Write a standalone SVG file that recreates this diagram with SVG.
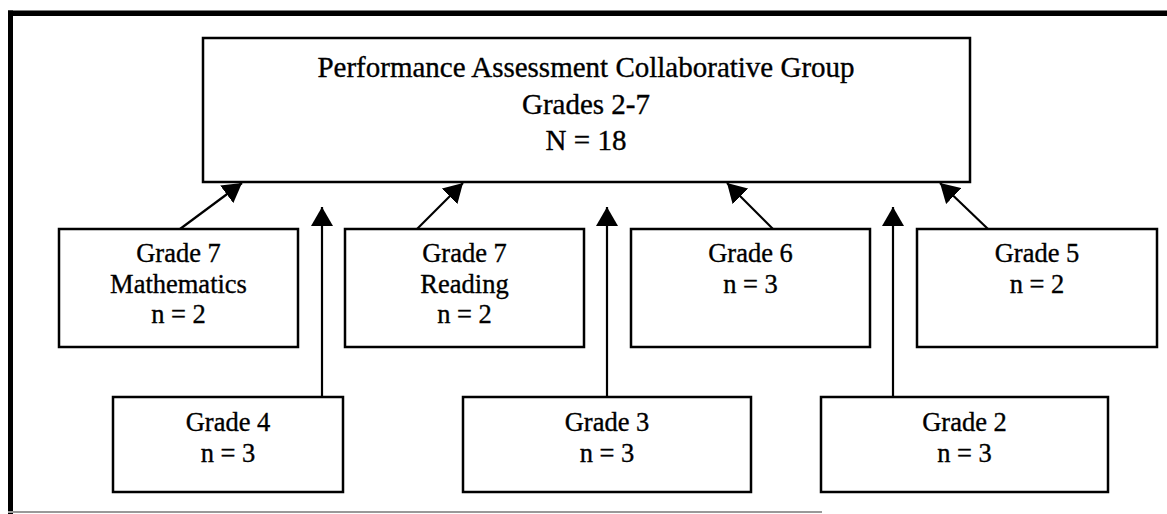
<svg xmlns="http://www.w3.org/2000/svg" width="1167" height="514" viewBox="0 0 1167 514">
<style>
.box{fill:#fff;stroke:#000;stroke-width:2.5}
.t{font-family:"Liberation Serif","Times New Roman",serif;font-size:26.5px;fill:#000;stroke:#000;stroke-width:0.35;text-anchor:middle}
.tt{font-family:"Liberation Serif","Times New Roman",serif;font-size:29px;fill:#000;stroke:#000;stroke-width:0.35;text-anchor:middle}
.c{stroke:#000;stroke-width:2.2;fill:none;marker-end:url(#ah)}
</style>
<defs>
<marker id="ah" markerUnits="userSpaceOnUse" markerWidth="22" markerHeight="22" refX="19" refY="11" orient="auto">
<path d="M0,0 L19,11 L0,22 z" fill="#000"/>
</marker>
</defs>
<rect width="1167" height="514" fill="#fff"/>
<g id="frame">
<rect x="8" y="10.5" width="1159" height="5.5" fill="#000"/>
<rect x="8" y="10.5" width="5" height="503.5" fill="#000"/>
<line x1="8" y1="512" x2="822" y2="512" stroke="#999" stroke-width="2"/>
</g>
<g id="connectors">
<line class="c" x1="180" y1="229" x2="242" y2="183"/>
<line class="c" x1="417" y1="229" x2="463" y2="183"/>
<line class="c" x1="773" y1="229" x2="727" y2="183"/>
<line class="c" x1="988" y1="229" x2="940" y2="183"/>
<line class="c" x1="322" y1="397" x2="322" y2="207"/>
<line class="c" x1="607" y1="397" x2="607" y2="207"/>
<line class="c" x1="893" y1="397" x2="893" y2="207"/>
</g>
<g id="top">
<rect class="box" x="203" y="38" width="767" height="144"/>
<text class="tt" x="586" y="77">Performance Assessment Collaborative Group</text>
<text class="tt" x="586" y="114">Grades 2-7</text>
<text class="tt" x="586" y="150">N = 18</text>
</g>
<g id="g7m">
<rect class="box" x="59" y="229" width="239" height="118"/>
<text class="t" x="178.5" y="262">Grade 7</text>
<text class="t" x="178.5" y="293">Mathematics</text>
<text class="t" x="178.5" y="323">n = 2</text>
</g>
<g id="g7r">
<rect class="box" x="345" y="229" width="239" height="118"/>
<text class="t" x="464.5" y="262">Grade 7</text>
<text class="t" x="464.5" y="293">Reading</text>
<text class="t" x="464.5" y="323">n = 2</text>
</g>
<g id="g6">
<rect class="box" x="631" y="229" width="239" height="118"/>
<text class="t" x="750.5" y="262">Grade 6</text>
<text class="t" x="750.5" y="293">n = 3</text>
</g>
<g id="g5">
<rect class="box" x="917" y="229" width="240" height="118"/>
<text class="t" x="1037" y="262">Grade 5</text>
<text class="t" x="1037" y="293">n = 2</text>
</g>
<g id="g4">
<rect class="box" x="113" y="397" width="230" height="95"/>
<text class="t" x="228" y="431">Grade 4</text>
<text class="t" x="228" y="462">n = 3</text>
</g>
<g id="g3">
<rect class="box" x="463" y="397" width="288" height="95"/>
<text class="t" x="607" y="431">Grade 3</text>
<text class="t" x="607" y="462">n = 3</text>
</g>
<g id="g2">
<rect class="box" x="821" y="397" width="287" height="95"/>
<text class="t" x="964.5" y="431">Grade 2</text>
<text class="t" x="964.5" y="462">n = 3</text>
</g>
</svg>
